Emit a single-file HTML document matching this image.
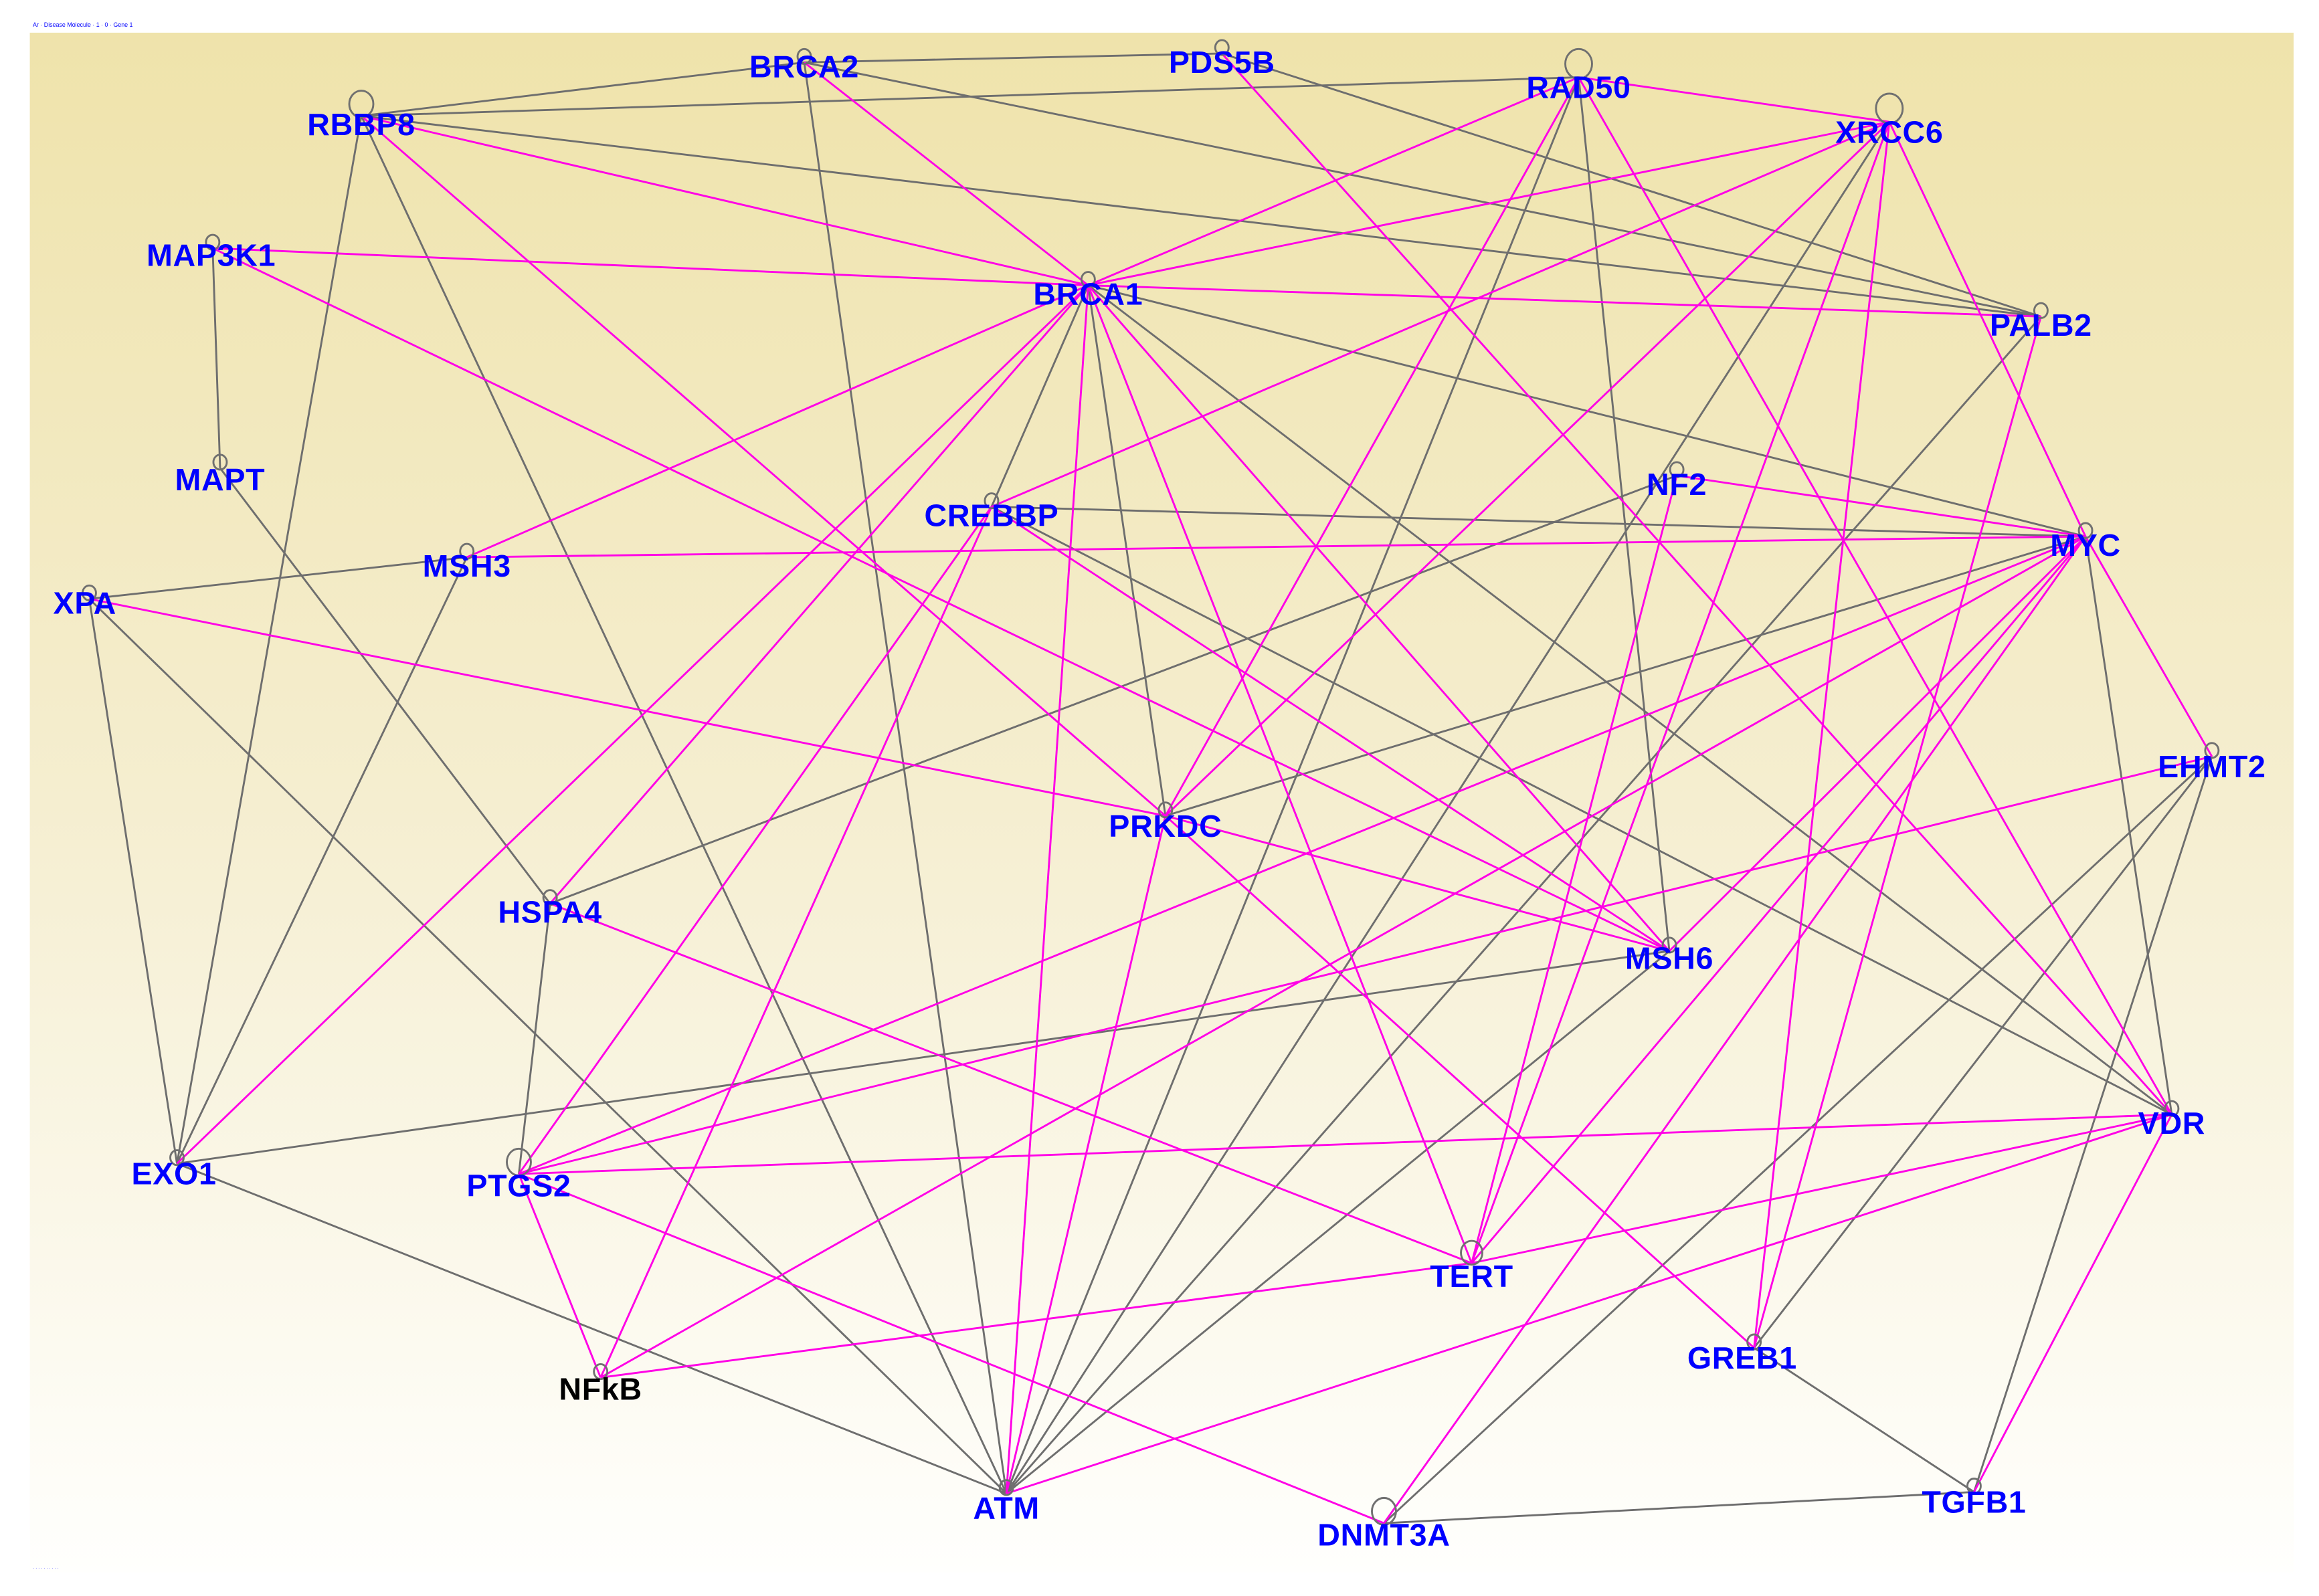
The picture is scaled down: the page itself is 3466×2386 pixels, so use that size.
<!DOCTYPE html>
<html><head><meta charset="utf-8"><style>
html,body{margin:0;padding:0;background:#fff;}
svg{display:block}
text.l{font-family:"Liberation Sans",Arial,sans-serif;font-weight:bold;font-size:21px;fill:#0000ff;text-anchor:middle;letter-spacing:0.3px}
</style></head><body>
<svg id="s" width="3466" height="2386" viewBox="0 0 1560 1074" xmlns="http://www.w3.org/2000/svg">
<defs><linearGradient id="g" x1="0" y1="0" x2="0" y2="1">
<stop offset="0" stop-color="#efe3ab"/><stop offset="0.5" stop-color="#f5eed0"/><stop offset="1" stop-color="#fffffd"/></linearGradient></defs>
<rect x="20" y="22" width="1523" height="1036" fill="url(#g)"/>
<text x="22" y="18" font-family="Liberation Sans,sans-serif" font-size="4" fill="#0000ff">Ar · Disease Molecule · 1 · 0 · Gene 1</text>
<text x="22" y="1056" font-family="Liberation Sans,sans-serif" font-size="3" fill="#0000ff">· · · · · · · · · ·</text>
<g id="edges"></g>
<g id="loops" fill="none" stroke="#707070" stroke-width="1.3"></g>
<g>
<text class="l" x="243" y="91">RBBP8</text>
<text class="l" x="541" y="52">BRCA2</text>
<text class="l" x="822" y="49">PDS5B</text>
<text class="l" x="1062" y="66">RAD50</text>
<text class="l" x="1271" y="96">XRCC6</text>
<text class="l" x="142" y="179">MAP3K1</text>
<text class="l" x="732" y="205">BRCA1</text>
<text class="l" x="1373" y="226">PALB2</text>
<text class="l" x="148" y="330">MAPT</text>
<text class="l" x="1128" y="333">NF2</text>
<text class="l" x="667" y="354">CREBBP</text>
<text class="l" x="1403" y="374">MYC</text>
<text class="l" x="314" y="388">MSH3</text>
<text class="l" x="57" y="413">XPA</text>
<text class="l" x="1488" y="523">EHMT2</text>
<text class="l" x="784" y="563">PRKDC</text>
<text class="l" x="370" y="621">HSPA4</text>
<text class="l" x="1123" y="652">MSH6</text>
<text class="l" x="1461" y="763">VDR</text>
<text class="l" x="117" y="797">EXO1</text>
<text class="l" x="349" y="805">PTGS2</text>
<text class="l" x="990" y="866">TERT</text>
<text class="l" x="1172" y="921">GREB1</text>
<text class="l" x="404" y="942" style="fill:#000">NFkB</text>
<text class="l" x="677" y="1022">ATM</text>
<text class="l" x="931" y="1040">DNMT3A</text>
<text class="l" x="1328" y="1018">TGFB1</text>
</g>
</svg>
<script>
var N={RBBP8:[243,78],BRCA2:[541,42],PDS5B:[822,36],RAD50:[1062,52],XRCC6:[1271,82],MAP3K1:[143,167],BRCA1:[732,192],PALB2:[1373,213],MAPT:[148,315],NF2:[1128,320],CREBBP:[667,341],MYC:[1403,361],MSH3:[314,375],XPA:[60,403],EHMT2:[1488,509],PRKDC:[784,549],HSPA4:[370,608],MSH6:[1123,640],VDR:[1461,750],EXO1:[119,783],PTGS2:[349,790],TERT:[990,850],GREB1:[1180,907],NFkB:[404,927],ATM:[677,1005],DNMT3A:[931,1025],TGFB1:[1328,1004]};
var G=[["RBBP8","BRCA2"],["RBBP8","RAD50"],["RBBP8","PALB2"],["RBBP8","EXO1"],["RBBP8","ATM"],["BRCA2","PDS5B"],["BRCA2","ATM"],["BRCA2","PALB2"],["PDS5B","PALB2"],["MAP3K1","MAPT"],["MAPT","HSPA4"],["XPA","MSH3"],["XPA","EXO1"],["XPA","ATM"],["MSH3","EXO1"],["HSPA4","PTGS2"],["HSPA4","NF2"],["BRCA1","CREBBP"],["BRCA1","PRKDC"],["BRCA1","MYC"],["BRCA1","VDR"],["CREBBP","MYC"],["CREBBP","VDR"],["RAD50","ATM"],["RAD50","MSH6"],["XRCC6","ATM"],["PALB2","ATM"],["PRKDC","MYC"],["MSH6","EXO1"],["MSH6","ATM"],["MYC","VDR"],["EHMT2","TGFB1"],["EHMT2","GREB1"],["EHMT2","DNMT3A"],["GREB1","TGFB1"],["DNMT3A","TGFB1"],["EXO1","ATM"]];
var M=[["RBBP8","BRCA1"],["RBBP8","PRKDC"],["BRCA2","BRCA1"],["PDS5B","VDR"],["RAD50","XRCC6"],["RAD50","BRCA1"],["RAD50","PRKDC"],["RAD50","VDR"],["XRCC6","BRCA1"],["XRCC6","CREBBP"],["XRCC6","TERT"],["XRCC6","MYC"],["XRCC6","GREB1"],["MAP3K1","BRCA1"],["MAP3K1","MSH6"],["BRCA1","PALB2"],["BRCA1","MSH3"],["BRCA1","EXO1"],["BRCA1","HSPA4"],["BRCA1","ATM"],["BRCA1","TERT"],["BRCA1","MSH6"],["CREBBP","PTGS2"],["CREBBP","NFkB"],["CREBBP","MSH6"],["MSH3","MYC"],["XPA","PRKDC"],["PRKDC","MSH6"],["PRKDC","GREB1"],["PRKDC","ATM"],["PRKDC","XRCC6"],["HSPA4","TERT"],["NF2","MYC"],["NF2","TERT"],["MYC","PTGS2"],["MYC","NFkB"],["MYC","TERT"],["MYC","DNMT3A"],["MYC","MSH6"],["MYC","EHMT2"],["PALB2","GREB1"],["EHMT2","PTGS2"],["VDR","PTGS2"],["VDR","TERT"],["VDR","ATM"],["VDR","TGFB1"],["PTGS2","NFkB"],["PTGS2","DNMT3A"],["NFkB","TERT"]];
var ns="http://www.w3.org/2000/svg",e=document.getElementById("edges"),lp=document.getElementById("loops");
function L(a,c,w){var p=N[a[0]],q=N[a[1]],l=document.createElementNS(ns,"line");l.setAttribute("x1",p[0]);l.setAttribute("y1",p[1]);l.setAttribute("x2",q[0]);l.setAttribute("y2",q[1]);l.setAttribute("stroke",c);l.setAttribute("stroke-width",w);e.appendChild(l);}
G.forEach(function(a){L(a,"#6e6e6e",1.3)});M.forEach(function(a){L(a,"#ff00e6",1.3)});
var R={RBBP8:9,RAD50:10,XRCC6:10,PTGS2:9,DNMT3A:9,TERT:8};
for(var k in N){var r=R[k]||5,c=document.createElementNS(ns,"ellipse");c.setAttribute("cx",N[k][0]);c.setAttribute("cy",N[k][1]-r+1);c.setAttribute("rx",r*0.9);c.setAttribute("ry",r);lp.appendChild(c);}
</script>
</body></html>
